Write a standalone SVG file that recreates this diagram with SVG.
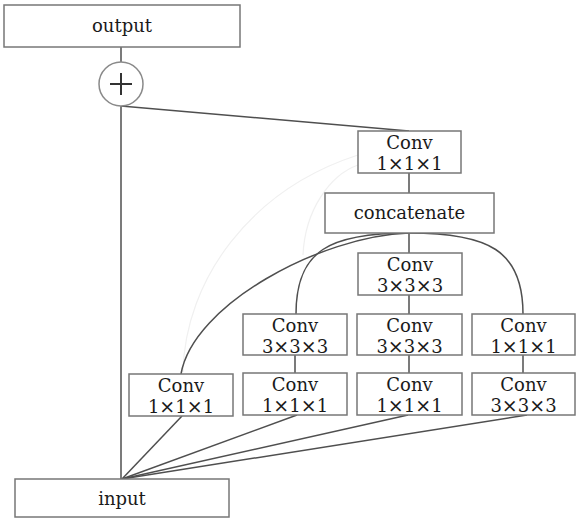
<svg xmlns="http://www.w3.org/2000/svg" width="576" height="521" viewBox="0 0 576 521">
  <style>
    .box { fill: #ffffff; stroke: #777777; stroke-width: 1.5; }
    .lbl { font-family: "DejaVu Serif", "Liberation Serif", serif; font-size: 18px; fill: #1a1a1a; text-anchor: middle; }
    .x { font-size: 19px; }
    .edge { fill: none; stroke: #4f4f4f; stroke-width: 1.5; }
    .ghost { fill: none; stroke: #f0f0f0; stroke-width: 1.2; }
  </style>
  <rect width="576" height="521" fill="#ffffff"/>

  <!-- faint background arcs -->
  <g id="ghosts">
    <path class="ghost" d="M183,372 C185,280 250,190 358,155"/>
    <path class="ghost" d="M303,255 C305,210 330,175 358,165"/>
    <path class="ghost" d="M527,415 L576,412"/>
  </g>

  <!-- connectors -->
  <g id="connectors">
    <line class="edge" x1="121" y1="47" x2="121" y2="62"/>
    <line class="edge" x1="121" y1="106" x2="121" y2="479"/>
    <line class="edge" x1="121" y1="106" x2="409" y2="131"/>
    <line class="edge" x1="409" y1="173" x2="409" y2="193"/>
    <line class="edge" x1="409" y1="233" x2="409" y2="253"/>
    <path class="edge" d="M409,233 C320,236 193,305 181,374"/>
    <path class="edge" d="M409,233 C330,233 296,250 296,314"/>
    <path class="edge" d="M409,233 C488,233 523,250 523,314"/>
    <line class="edge" x1="295" y1="355" x2="295" y2="373"/>
    <line class="edge" x1="409" y1="295" x2="409" y2="314"/>
    <line class="edge" x1="409" y1="355" x2="409" y2="373"/>
    <line class="edge" x1="523" y1="355" x2="523" y2="373"/>
    <line class="edge" x1="182" y1="416" x2="122" y2="479"/>
    <line class="edge" x1="297" y1="415" x2="122" y2="479"/>
    <line class="edge" x1="408" y1="415" x2="122" y2="479"/>
    <line class="edge" x1="527" y1="415" x2="122" y2="479"/>
  </g>

  <g id="output">
    <rect class="box" x="4" y="5" width="236" height="42"/>
    <text class="lbl" x="122" y="32">output</text>
  </g>

  <g id="add">
    <circle cx="121" cy="84" r="22" fill="#ffffff" stroke="#8a8a8a" stroke-width="1.5"/>
    <path d="M110,84 H132 M121,73 V95" stroke="#333333" stroke-width="2" fill="none"/>
  </g>

  <g id="conv_out">
    <rect class="box" x="358" y="131" width="103" height="42"/>
    <text class="lbl" x="409.5" y="149">Conv</text>
    <text class="lbl" x="409.5" y="170">1<tspan class="x">×</tspan>1<tspan class="x">×</tspan>1</text>
  </g>

  <g id="concatenate">
    <rect class="box" x="325" y="193" width="169" height="40"/>
    <text class="lbl" x="409.5" y="219">concatenate</text>
  </g>

  <g id="conv_b3_top">
    <rect class="box" x="358" y="253" width="104" height="42"/>
    <text class="lbl" x="410" y="271">Conv</text>
    <text class="lbl" x="410" y="292">3<tspan class="x">×</tspan>3<tspan class="x">×</tspan>3</text>
  </g>

  <g id="conv_b1">
    <rect class="box" x="129" y="374" width="104" height="42"/>
    <text class="lbl" x="181" y="392">Conv</text>
    <text class="lbl" x="181" y="413">1<tspan class="x">×</tspan>1<tspan class="x">×</tspan>1</text>
  </g>

  <g id="conv_b2_top">
    <rect class="box" x="243" y="314" width="104" height="41"/>
    <text class="lbl" x="295" y="332">Conv</text>
    <text class="lbl" x="295" y="353">3<tspan class="x">×</tspan>3<tspan class="x">×</tspan>3</text>
  </g>

  <g id="conv_b2_bottom">
    <rect class="box" x="243" y="373" width="104" height="42"/>
    <text class="lbl" x="295" y="391">Conv</text>
    <text class="lbl" x="295" y="412">1<tspan class="x">×</tspan>1<tspan class="x">×</tspan>1</text>
  </g>

  <g id="conv_b3_mid">
    <rect class="box" x="357" y="314" width="105" height="41"/>
    <text class="lbl" x="409.5" y="332">Conv</text>
    <text class="lbl" x="409.5" y="353">3<tspan class="x">×</tspan>3<tspan class="x">×</tspan>3</text>
  </g>

  <g id="conv_b3_bottom">
    <rect class="box" x="357" y="373" width="105" height="42"/>
    <text class="lbl" x="409.5" y="391">Conv</text>
    <text class="lbl" x="409.5" y="412">1<tspan class="x">×</tspan>1<tspan class="x">×</tspan>1</text>
  </g>

  <g id="conv_b4_top">
    <rect class="box" x="472" y="314" width="103" height="41"/>
    <text class="lbl" x="523.5" y="332">Conv</text>
    <text class="lbl" x="523.5" y="353">1<tspan class="x">×</tspan>1<tspan class="x">×</tspan>1</text>
  </g>

  <g id="conv_b4_bottom">
    <rect class="box" x="472" y="373" width="103" height="42"/>
    <text class="lbl" x="523.5" y="391">Conv</text>
    <text class="lbl" x="523.5" y="412">3<tspan class="x">×</tspan>3<tspan class="x">×</tspan>3</text>
  </g>

  <g id="input">
    <rect class="box" x="15" y="479" width="214" height="38"/>
    <text class="lbl" x="122" y="505">input</text>
  </g>
</svg>
